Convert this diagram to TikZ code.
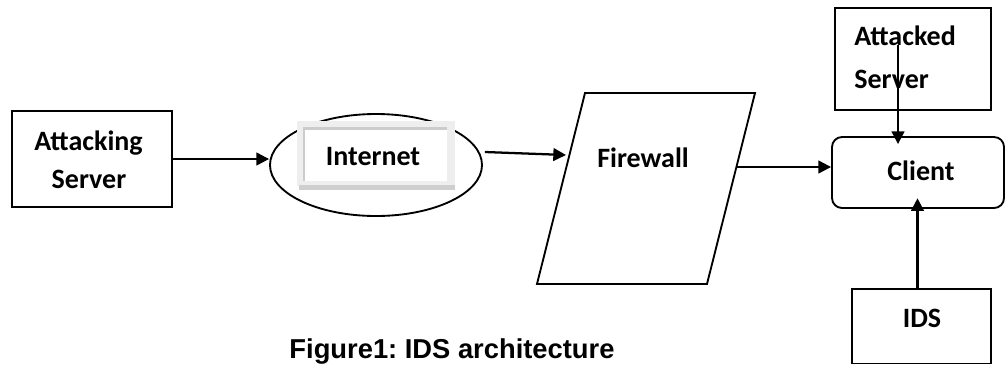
\documentclass[tikz,border=0pt]{standalone}
\usepackage{fontspec}
\setmainfont{Carlito}
\newfontfamily\capfont{Liberation Sans}
\usetikzlibrary{shapes.geometric,arrows.meta,fit}
\frenchspacing
\begin{document}
\begin{tikzpicture}[x=0.75pt,y=-0.75pt,
  box/.style={draw,line width=1.4pt,inner sep=0pt},
  lbl/.style={font=\fontsize{21}{25}\selectfont\bfseries,inner sep=0pt,anchor=base},
  lblw/.style={lbl,anchor=base west},
  arr/.style={line width=1.7pt,-{Triangle[length=9.5pt,width=9.5pt]}},
]
\useasboundingbox (0,0) rectangle (1007,365);

% attacking server
\node[box,fit={(12,111)(172,207)}] (attacking) {};
\node[lbl] (attackingtxt1) at (88.5,150) {Attacking};
\node[lbl] (attackingtxt2) at (89,188) {Server};

% internet cloud with its framed label
\node[draw,ellipse,line width=1.4pt,minimum width=159pt,minimum height=76.5pt,inner sep=0pt] (inet) at (376,165) {};
\fill[gray!13] (297,121) rectangle (455,186);
\fill[gray!38] (299,185) rectangle (455,190);
\fill[white] (304,128) rectangle (447,181);
\draw[gray!40,line width=1.6pt] (304,181) -- (304,128.5) -- (447,128.5);
\node[lbl] (inettxt) at (373,165) {Internet};

% firewall
\draw[line width=1.4pt] (585,93) -- (755,93) -- (707,284) -- (537,284) -- cycle;
\node[lbl] (fw) at (643,167) {Firewall};
\coordinate (fwin) at (566,155);
\coordinate (fwout) at (737,167);

% client
\node[box,rounded corners=7.5pt,fit={(832,137)(1004,208)}] (client) {};
\node[lbl] (clienttxt) at (921,180) {Client};

% attacked server
\node[box,fit={(835,8)(991,110)}] (attacked) {};
\node[lblw] (attackedtxt1) at (854,45) {Attacked};
\node[lblw] (attackedtxt2) at (854,88) {Server};
\coordinate (atkfrom) at (898,45);

% intrusion detection system
\node[box,fit={(852,289)(991,363.5)}] (ids) {};
\node[lbl] (idstxt) at (922,327) {IDS};

% connectors
\draw[arr] (attacking.east) -- (attacking.east -| inet.west);
\draw[arr] ([shift={(2,-13)}]inet.east) -- (fwin);
\draw[arr] (fwout) -- (fwout -| client.west);
\draw[arr,shorten >=-6pt] (atkfrom) -- (atkfrom |- client.north);
\draw[arr,shorten >=-8pt] ([xshift=-3pt]ids.north) -- ([xshift=-3pt]ids.north |- client.south);

% caption
\node[font=\capfont\bfseries\fontsize{20.5}{24}\selectfont,inner sep=0pt,anchor=base] (caption) at (452,358) {Figure1: IDS architecture};
\end{tikzpicture}
\end{document}
